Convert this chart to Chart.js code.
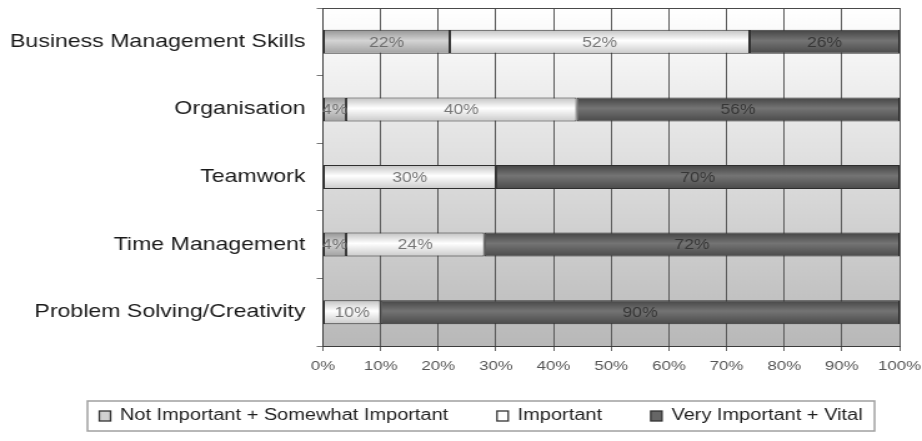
<!DOCTYPE html>
<html>
<head>
<meta charset="utf-8">
<script src="https://cdn.jsdelivr.net/npm/chart.js@4.4.1/dist/chart.umd.min.js"></script>
<style>
  html, body { margin: 0; padding: 0; background: #ffffff; overflow: hidden; }
  #wrap { width: 738px; height: 441px; transform: scaleX(1.24932); transform-origin: 0 0; }
  canvas { display: block; }
</style>
</head>
<body>
<div id="wrap"><canvas id="c" width="738" height="441"></canvas></div>
<script>
const categories = ['Business Management Skills', 'Organisation', 'Teamwork', 'Time Management', 'Problem Solving/Creativity'];
const seriesNames = ['Not Important + Somewhat Important', 'Important', 'Very Important + Vital'];
const notImportant = [22, 4, 0, 4, 0];
const important = [52, 40, 30, 24, 10];
const veryImportant = [26, 56, 70, 72, 90];
const xTickStep = 10;

const FONT = "'Liberation Sans', Arial, sans-serif";
const BAR_PCT = 0.355;

const fills = [
  ['#949494', '#d4d4d4', '#a0a0a0'],
  ['#c2c2c2', '#ffffff', '#cacaca'],
  ['#444444', '#747474', '#4a4a4a']
];
const legendFills = ['#d0d0d0', '#ffffff', '#666666'];
const labelColors = ['#6e6e6e', '#767676', '#363636'];

function barGradient(stops) {
  return (c) => {
    if (c.type !== 'data') return stops[1];
    const chart = c.chart;
    const ys = chart.scales && chart.scales.y;
    const area = chart.chartArea;
    if (!ys || !area) return stops[1];
    const y = ys.getPixelForValue(c.dataIndex);
    const half = (area.bottom - area.top) / categories.length * BAR_PCT / 2;
    const g = chart.ctx.createLinearGradient(0, y - half, 0, y + half);
    g.addColorStop(0, stops[0]);
    g.addColorStop(0.45, stops[1]);
    g.addColorStop(1, stops[2]);
    return g;
  };
}

const plotBg = {
  id: 'plotBg',
  beforeDraw(chart) {
    const { ctx, chartArea: a } = chart;
    if (!a) return;
    const g = ctx.createLinearGradient(0, a.top, 0, a.bottom);
    g.addColorStop(0, '#ffffff');
    g.addColorStop(1, '#b8b8b8');
    ctx.save();
    ctx.fillStyle = g;
    ctx.fillRect(a.left, a.top, a.right - a.left, a.bottom - a.top);
    ctx.restore();
  },
  afterDatasetsDraw(chart) {
    const { ctx, chartArea: a } = chart;
    ctx.save();
    ctx.strokeStyle = '#4a4a4a';
    ctx.lineWidth = 1;
    ctx.beginPath();
    ctx.moveTo(a.left, a.top + 0.5);
    ctx.lineTo(a.right, a.top + 0.5);
    ctx.stroke();
    ctx.restore();
  }
};

const valueLabels = {
  id: 'valueLabels',
  afterDatasetsDraw(chart) {
    const ctx = chart.ctx;
    ctx.save();
    ctx.font = '14px ' + FONT;
    ctx.textAlign = 'center';
    ctx.textBaseline = 'middle';
    chart.data.datasets.forEach((ds, di) => {
      const meta = chart.getDatasetMeta(di);
      meta.data.forEach((el, i) => {
        const v = ds.data[i];
        if (!v) return;
        const p = el.getProps(['x', 'y', 'base'], true);
        ctx.fillStyle = labelColors[di];
        ctx.fillText(v + '%', (p.x + p.base) / 2, p.y + 1);
      });
    });
    ctx.restore();
  }
};

const boxLegend = {
  id: 'boxLegend',
  afterDraw(chart) {
    const ctx = chart.ctx;
    ctx.save();
    ctx.font = '16px ' + FONT;
    ctx.textBaseline = 'middle';
    const mW = 9, mH = 10, mGap = 7.5, gap = 39;
    const widths = chart.data.datasets.map(d => ctx.measureText(d.label).width);
    const total = widths.reduce((s, w) => s + w + mW + mGap, 0) + gap * (widths.length - 1);
    const boxL = 70, boxR = 700, boxT = 401, boxB = 431;
    const cy = 416;
    ctx.strokeStyle = '#a0a0a0';
    ctx.lineWidth = 1.5;
    ctx.strokeRect(boxL, boxT, boxR - boxL, boxB - boxT);
    let x = (boxL + boxR) / 2 - total / 2;
    chart.data.datasets.forEach((d, i) => {
      ctx.fillStyle = legendFills[i];
      ctx.fillRect(x, cy - mH / 2, mW, mH);
      ctx.strokeStyle = '#333333';
      ctx.lineWidth = 1.3;
      ctx.strokeRect(x, cy - mH / 2, mW, mH);
      ctx.fillStyle = '#1e1e1e';
      ctx.fillText(d.label, x + mW + mGap, cy);
      x += mW + mGap + widths[i] + gap;
    });
    ctx.restore();
  }
};

const seriesValues = [notImportant, important, veryImportant];
const datasets = seriesNames.map((name, i) => ({
  label: name,
  data: seriesValues[i],
  backgroundColor: barGradient(fills[i]),
  borderColor: '#2e2e2e',
  borderWidth: 1,
  borderSkipped: false,
  barPercentage: BAR_PCT,
  categoryPercentage: 1
}));

new Chart(document.getElementById('c'), {
  type: 'bar',
  data: { labels: categories, datasets },
  options: {
    indexAxis: 'y',
    responsive: false,
    animation: false,
    devicePixelRatio: 1,
    layout: { padding: { top: 8, right: 18, bottom: 65, left: 0 } },
    plugins: { legend: { display: false }, tooltip: { enabled: false } },
    scales: {
      x: {
        stacked: true,
        min: 0,
        max: 100,
        afterFit(s) { s.height = 30; s.paddingRight = 0; s.paddingLeft = 0; },
        ticks: {
          stepSize: xTickStep,
          callback: v => v + '%',
          font: { family: FONT, size: 13.5 },
          color: '#555555',
          padding: 7,
          maxRotation: 0
        },
        grid: { color: '#5a5a5a', lineWidth: 1, tickLength: 5, tickColor: '#666666' },
        border: { color: '#3c3c3c', width: 1 }
      },
      y: {
        stacked: true,
        afterFit(s) { s.width = 258.5; s.paddingTop = 0; s.paddingBottom = 0; },
        ticks: {
          font: { family: FONT, size: 18.5 },
          color: '#1a1a1a',
          padding: 9
        },
        grid: { drawOnChartArea: false, offset: true, tickLength: 5, color: '#777777' },
        border: { color: '#3c3c3c', width: 1 }
      }
    }
  },
  plugins: [plotBg, valueLabels, boxLegend]
});
</script>
</body>
</html>
